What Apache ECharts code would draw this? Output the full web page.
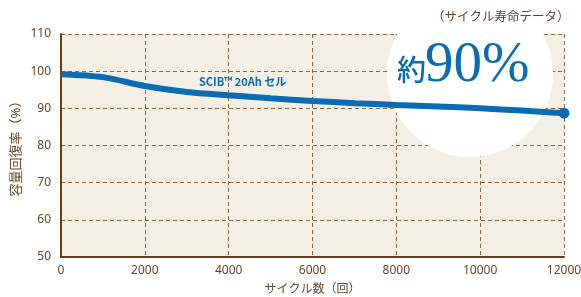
<!DOCTYPE html>
<html>
<head>
<meta charset="utf-8">
<script src="https://cdn.jsdelivr.net/npm/echarts@6/dist/echarts.min.js"></script>
<style>
  html, body { margin: 0; padding: 0; background: #fff; }
  #main { width: 581px; height: 297px; }
</style>
</head>
<body>
<div id="main"></div>
<script>
// サイクル数と容量回復率
var cycles = [0, 1000, 2000, 3000, 4000, 5000, 6000, 7000, 8000, 9000, 10000, 11000, 12000];
var recovery = [99.2, 98.4, 96.0, 94.4, 93.5, 92.7, 92.0, 91.4, 90.9, 90.5, 90.0, 89.4, 88.7];
var xTicks = [0, 2000, 4000, 6000, 8000, 10000, 12000];
var yTicks = [50, 60, 70, 80, 90, 100, 110];

var brown = '#6b4526';
var blue = '#0a6cb3';
var font = '"Noto Sans", "Noto Sans CJK JP", sans-serif';

var myChart = echarts.init(document.getElementById('main'));

var points = cycles.map(function (c, i) {
    var p = { value: [c, recovery[i]] };
    if (i === cycles.length - 1) {
        p.symbol = 'circle';
        p.symbolSize = 11;
    }
    return p;
});

var option = {
    animation: false,
    backgroundColor: '#fff',
    grid: {
        left: 61, right: 17, top: 34, bottom: 40,
        outerBoundsMode: 'none',
        containLabel: false,
        show: true, backgroundColor: '#f3efe4', borderWidth: 0
    },
    xAxis: {
        type: 'value',
        min: xTicks[0], max: xTicks[xTicks.length - 1], interval: 2000,
        name: 'サイクル数（回）',
        nameLocation: 'middle', nameGap: 27, nameMoveOverlap: false,
        nameTextStyle: { color: brown, fontSize: 12, fontFamily: font },
        axisLine: { lineStyle: { color: '#6b3d17', width: 2 } },
        axisTick: { show: false },
        axisLabel: { color: brown, fontSize: 12, fontFamily: font, margin: 8,
            formatter: function (v) { return String(v); } },
        splitLine: { show: true, lineStyle: { color: '#8a6a48', type: [4, 3], width: 1 } }
    },
    yAxis: {
        type: 'value',
        min: yTicks[0], max: yTicks[yTicks.length - 1], interval: 10,
        name: '容量回復率（%）',
        nameLocation: 'middle', nameGap: 38, nameRotate: 90, nameMoveOverlap: false,
        nameTextStyle: { color: brown, fontSize: 13, fontFamily: font },
        axisLine: { show: true, lineStyle: { color: '#6b3d17', width: 2 } },
        axisTick: { show: false },
        axisLabel: { color: brown, fontSize: 12, fontFamily: font, margin: 10 },
        splitLine: { show: true, lineStyle: { color: '#8a6a48', type: [4, 3], width: 1 } }
    },
    graphic: [
        {
            type: 'circle', z: 1,
            shape: { cx: 470, cy: 74, r: 83 },
            style: { fill: '#fff' }
        },
        {
            type: 'text', z: 5, left: 432, top: 10,
            style: { text: '（サイクル寿命データ）', fill: brown, fontSize: 12.5, fontFamily: 'Noto Sans CJK JP' }
        },
        {
            type: 'text', z: 5, left: 397, top: 55,
            style: { text: '約', fill: blue, fontSize: 29, fontWeight: 500, fontFamily: 'Noto Sans CJK JP' }
        },
        {
            type: 'text', z: 5, left: 425, top: 38,
            style: { text: '90%', fill: blue, fontSize: 57, fontFamily: 'serif' }
        },
        {
            type: 'text', z: 5, left: 199, top: 76,
            style: { text: 'SCIB™ 20Ah セル', fill: blue, fontSize: 11, fontWeight: 'bold', fontFamily: 'Noto Sans CJK JP' }
        }
    ],
    series: [{
        type: 'line',
        data: points,
        smooth: 0.3,
        symbol: 'none',
        showSymbol: true,
        z: 3,
        lineStyle: { color: blue, width: 6 },
        itemStyle: { color: blue }
    }]
};

myChart.setOption(option);
</script>
</body>
</html>
